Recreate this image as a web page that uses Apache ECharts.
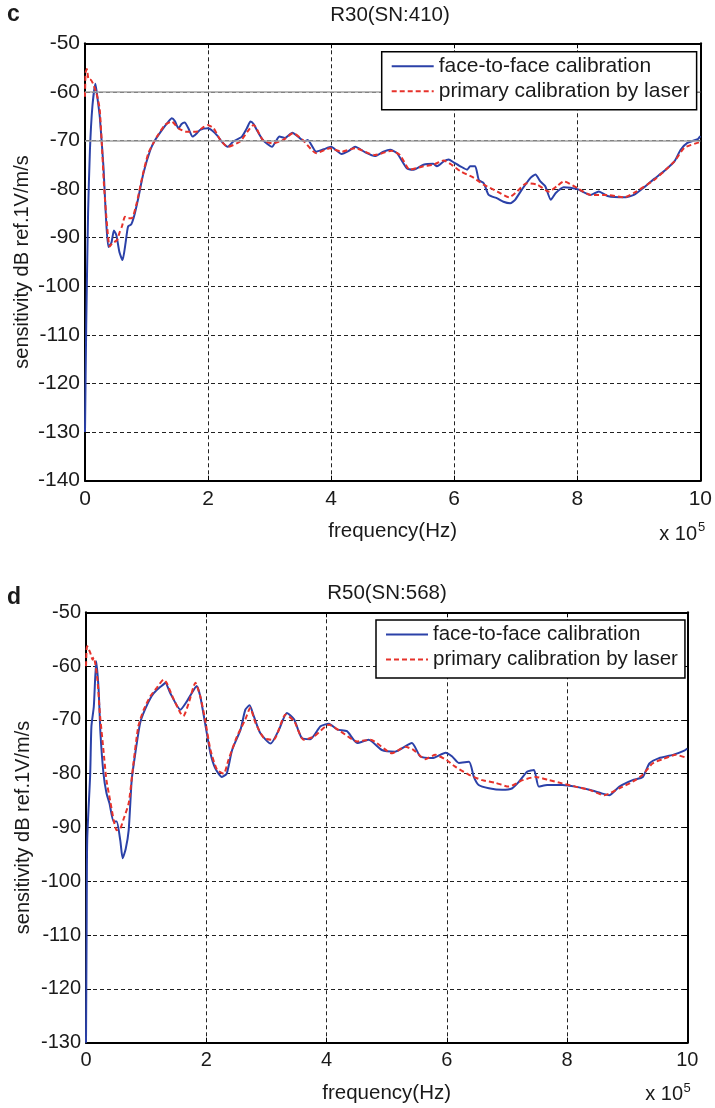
<!DOCTYPE html>
<html>
<head>
<meta charset="utf-8">
<script src="https://cdn.jsdelivr.net/npm/echarts@6/dist/echarts.min.js"></script>
<style>
  html, body { margin: 0; padding: 0; background: #fff; }
  #main { width: 715px; height: 1108px; }
</style>
</head>
<body>
<div id="main"></div>
<script>
// frequency in units of 1e5 Hz, sensitivity in dB
var xTicks = [0, 2, 4, 6, 8, 10];
var seriesNames = ['face-to-face calibration', 'primary calibration by laser'];

// R30 (SN:410)
var r30Face = [[0,-130],[0.02,-108],[0.05,-85],[0.08,-72],[0.12,-63],[0.17,-58.3],[0.21,-62],[0.24,-65.1],[0.30,-75.4],[0.34,-85.7],[0.38,-91.9],[0.43,-91],[0.47,-88.5],[0.51,-89.5],[0.56,-93],[0.61,-94.6],[0.66,-91],[0.70,-87.7],[0.75,-87.3],[0.80,-85.5],[0.86,-82.2],[0.95,-76.7],[1.06,-72],[1.14,-69.9],[1.27,-67.5],[1.35,-66.2],[1.41,-65.4],[1.46,-66],[1.52,-67.5],[1.57,-66.6],[1.62,-66.3],[1.68,-67.5],[1.75,-69.2],[1.81,-68.6],[1.87,-67.8],[2.0,-67.5],[2.08,-68.1],[2.15,-69],[2.22,-70.2],[2.32,-71.3],[2.41,-70.2],[2.55,-69.2],[2.63,-67.5],[2.69,-66.1],[2.74,-66.6],[2.79,-67.8],[2.89,-69.9],[3.04,-71.3],[3.10,-70.2],[3.16,-69.2],[3.25,-69.5],[3.37,-68.4],[3.49,-69.5],[3.57,-70.2],[3.62,-69.9],[3.76,-72.3],[3.88,-71.8],[4.0,-71.3],[4.08,-72],[4.17,-72.8],[4.28,-72.2],[4.39,-71.3],[4.55,-72.4],[4.71,-73.2],[4.85,-72.3],[4.96,-71.9],[5.07,-72.6],[5.23,-75.7],[5.34,-76.0],[5.5,-75.0],[5.66,-74.8],[5.72,-75.3],[5.83,-74.3],[5.91,-73.9],[5.99,-74.5],[6.1,-75.3],[6.21,-76.0],[6.26,-75.3],[6.34,-75.3],[6.40,-78.1],[6.48,-78.8],[6.56,-81.2],[6.70,-81.9],[6.80,-82.6],[6.91,-82.9],[6.99,-82.2],[7.10,-80.1],[7.24,-77.7],[7.32,-77.0],[7.40,-78.4],[7.48,-79.4],[7.57,-82.2],[7.65,-80.8],[7.78,-79.6],[8.0,-80.0],[8.22,-81.2],[8.35,-80.5],[8.49,-81.4],[8.76,-81.7],[8.92,-81.2],[9.09,-79.6],[9.25,-77.9],[9.41,-76.3],[9.58,-74.3],[9.68,-71.9],[9.79,-70.5],[9.96,-69.7],[10,-69.1]];
var r30Laser = [[0,-61],[0.01,-56],[0.03,-55.3],[0.06,-57.5],[0.09,-57.5],[0.13,-58.3],[0.18,-60],[0.21,-61.5],[0.24,-63.7],[0.27,-69.9],[0.31,-79.5],[0.36,-87.7],[0.40,-91.8],[0.44,-91.2],[0.52,-90.5],[0.56,-89],[0.60,-87.7],[0.65,-85.7],[0.70,-86],[0.76,-86.0],[0.84,-82.9],[0.92,-78.1],[1.03,-72.6],[1.17,-69.2],[1.30,-66.8],[1.41,-66.1],[1.52,-67.5],[1.65,-68.2],[1.81,-68.2],[1.92,-67.3],[1.99,-66.8],[2.09,-67.5],[2.20,-69.9],[2.32,-71.3],[2.52,-70.2],[2.65,-68],[2.74,-66.8],[2.89,-69.9],[3.05,-70.6],[3.22,-69.9],[3.38,-68.5],[3.54,-69.9],[3.76,-72.6],[3.98,-71.6],[4.17,-72.3],[4.39,-71.6],[4.71,-73.0],[4.98,-72.1],[5.12,-73],[5.28,-76.0],[5.5,-75.3],[5.66,-75.0],[5.83,-74.1],[5.96,-75.0],[6.1,-76.3],[6.32,-77.7],[6.48,-79.1],[6.7,-80.5],[6.89,-81.7],[7.02,-80.5],[7.18,-78.8],[7.35,-79.1],[7.54,-80.5],[7.67,-79.4],[7.78,-78.4],[8.0,-79.8],[8.22,-81.2],[8.49,-81.2],[8.76,-81.7],[8.92,-80.8],[9.25,-78.1],[9.58,-74.3],[9.74,-71.5],[10,-70.3]];

// R50 (SN:568)
var r50Face = [[0,-130],[0.01,-110],[0.02,-92.4],[0.07,-80],[0.09,-71.2],[0.13,-67.5],[0.17,-59.1],[0.21,-64.4],[0.24,-72.4],[0.29,-79.9],[0.34,-83.6],[0.39,-85.5],[0.46,-88.9],[0.51,-88.9],[0.57,-92.4],[0.61,-95.7],[0.66,-94],[0.71,-90.5],[0.76,-81.2],[0.82,-76.2],[0.90,-70.6],[0.98,-68.1],[1.09,-65.6],[1.18,-64.4],[1.29,-63.4],[1.32,-63.1],[1.40,-65.0],[1.57,-68.1],[1.68,-66.5],[1.76,-65.0],[1.84,-63.7],[1.90,-65.6],[1.98,-70.6],[2.07,-76.2],[2.15,-79.0],[2.26,-80.6],[2.34,-80.0],[2.43,-75.6],[2.57,-71.8],[2.65,-68.1],[2.72,-67.3],[2.79,-69.3],[2.90,-72.5],[3.07,-74.4],[3.21,-71.8],[3.34,-68.7],[3.46,-69.9],[3.59,-73.4],[3.73,-73.6],[3.90,-71.2],[4.04,-70.7],[4.18,-71.8],[4.34,-72.1],[4.51,-74.3],[4.70,-73.7],[4.92,-75.6],[5.14,-75.9],[5.42,-74.3],[5.56,-76.8],[5.76,-77.1],[5.98,-76.1],[6.09,-76.8],[6.2,-78.0],[6.37,-77.8],[6.45,-80.6],[6.53,-82.1],[6.70,-82.7],[6.92,-83.0],[7.09,-82.7],[7.2,-81.5],[7.34,-79.6],[7.45,-79.3],[7.53,-82.4],[7.67,-82.1],[7.92,-82.1],[8.14,-82.4],[8.37,-83.0],[8.59,-83.7],[8.7,-84.0],[8.87,-82.4],[9.09,-81.2],[9.26,-80.6],[9.37,-78.1],[9.53,-77.1],[9.76,-76.5],[9.95,-75.7],[10,-75.3]];
var r50Laser = [[0,-60],[0.01,-56.9],[0.02,-56.3],[0.07,-57.5],[0.11,-58.8],[0.13,-58.4],[0.19,-62.5],[0.23,-68.7],[0.29,-75.6],[0.34,-81.2],[0.40,-84.9],[0.46,-88.6],[0.51,-90.5],[0.57,-90.2],[0.62,-88.6],[0.71,-85.5],[0.79,-78.0],[0.87,-71.2],[0.96,-68.1],[1.07,-65.6],[1.18,-64.0],[1.29,-62.5],[1.34,-63.1],[1.46,-66.2],[1.57,-68.7],[1.62,-69.3],[1.71,-66.8],[1.82,-63.1],[1.90,-65.6],[1.98,-69.9],[2.07,-75.6],[2.18,-79.3],[2.29,-80.0],[2.37,-77.4],[2.51,-73.1],[2.65,-69.9],[2.73,-67.8],[2.82,-70.6],[2.96,-73.4],[3.12,-73.7],[3.32,-69.0],[3.46,-70.2],[3.62,-73.7],[3.79,-73.1],[4.04,-70.9],[4.23,-72.1],[4.51,-74.0],[4.73,-73.7],[5.09,-76.2],[5.31,-75.0],[5.45,-75.6],[5.64,-77.3],[5.81,-76.5],[6.0,-77.5],[6.14,-78.7],[6.37,-80.2],[6.59,-81.2],[6.81,-81.7],[7.03,-82.4],[7.26,-81.2],[7.48,-80.6],[7.70,-81.2],[7.92,-81.8],[8.14,-82.4],[8.37,-83.0],[8.62,-84.0],[8.87,-82.7],[9.09,-81.5],[9.26,-80.2],[9.42,-78.1],[9.59,-77.3],[9.81,-76.5],[10,-77.1]];

var FONT = 'Liberation Sans, Arial, sans-serif';
var TXT = '#1a1a1a';
var BLUE = '#2b41a8';
var RED = '#e6322b';

var myChart = echarts.init(document.getElementById('main'));

function xAx(grid, pos, fs, withName) {
	return {
		type: 'value', gridIndex: grid, position: pos,
		min: xTicks[0], max: xTicks[xTicks.length - 1], interval: 2,
		axisLine: { show: true, onZero: false, lineStyle: { color: '#000', width: 2 } },
		axisTick: { show: true, inside: true, length: 5, lineStyle: { color: '#000' } },
		axisLabel: { show: pos === 'bottom', color: TXT, fontSize: fs, fontFamily: FONT, margin: 8 },
		splitLine: { show: pos === 'bottom', lineStyle: { color: '#222', type: [4, 3], width: 1 } },
		name: withName ? 'frequency(Hz)' : '',
		nameLocation: 'middle', nameGap: 40,
		nameTextStyle: { color: TXT, fontSize: 20.5, fontFamily: FONT }
	};
}
function yAx(grid, pos, fs, min) {
	return {
		type: 'value', gridIndex: grid, position: pos,
		min: min, max: -50, interval: 10,
		axisLine: { show: true, onZero: false, lineStyle: { color: '#000', width: 2 } },
		axisTick: { show: true, inside: true, length: 5, lineStyle: { color: '#000' } },
		axisLabel: { show: pos === 'left', color: TXT, fontSize: fs, fontFamily: FONT, margin: 5 },
		splitLine: { show: pos === 'left', lineStyle: { color: '#222', type: [4, 3], width: 1 } }
	};
}
function legendAt(left, top, fs) {
	return {
		orient: 'vertical', left: left, top: top, z: 20,
		data: seriesNames,
		itemWidth: 42, itemHeight: 14, itemGap: 4,
		itemStyle: { opacity: 0 },
		backgroundColor: '#fff', borderColor: '#000', borderWidth: 1.5,
		padding: [4, 7, 8, 9],
		textStyle: { color: TXT, fontSize: fs, fontFamily: FONT },
		selectedMode: false
	};
}
function lineSeries(name, data, xi, yi, color, dashed) {
	return {
		name: name, type: 'line', data: data,
		xAxisIndex: xi, yAxisIndex: yi,
		showSymbol: false, symbol: 'none', smooth: 0.2,
		lineStyle: { color: color, width: 2, type: dashed ? [5, 3] : 'solid' },
		itemStyle: { color: color },
		z: dashed ? 4 : 3
	};
}
function txt(x, y, s, font, align, rot) {
	return {
		type: 'text', x: x, y: y, rotation: rot || 0,
		style: { text: s, font: font, fill: TXT, textAlign: align || 'center', textVerticalAlign: 'middle' }
	};
}

var s0 = lineSeries(seriesNames[0], r30Face, 0, 0, BLUE, false);
s0.markLine = {
	silent: true, symbol: 'none', label: { show: false },
	lineStyle: { type: 'solid', color: '#a3a3a3', width: 1.5 },
	data: [{ yAxis: -60 }, { yAxis: -70 }]
};

option = {
	animation: false,
	backgroundColor: '#fff',
	grid: [
		{ left: 85, top: 43.3, width: 615.7, height: 437.4 },
		{ left: 86, top: 612.3, width: 601.3, height: 430.4 }
	],
	xAxis: [xAx(0, 'bottom', 21, true), xAx(0, 'top', 21, false), xAx(1, 'bottom', 20, true), xAx(1, 'top', 20, false)],
	yAxis: [yAx(0, 'left', 21, -140), yAx(0, 'right', 21, -140), yAx(1, 'left', 20, -130), yAx(1, 'right', 20, -130)],
	legend: [legendAt(381.7, 51.7, 21), legendAt(376, 620, 20.5)],
	series: [
		s0,
		lineSeries(seriesNames[1], r30Laser, 0, 0, RED, true),
		lineSeries(seriesNames[0], r50Face, 2, 2, BLUE, false),
		lineSeries(seriesNames[1], r50Laser, 2, 2, RED, true)
	],
	graphic: [
		txt(7, 15, 'c', 'bold 23px ' + FONT, 'left'),
		txt(390, 15, 'R30(SN:410)', '20.5px ' + FONT),
		txt(22, 262, 'sensitivity dB ref.1V/m/s', '20px ' + FONT, 'center', Math.PI / 2),
		txt(697, 534, 'x 10', '20px ' + FONT, 'right'),
		txt(698, 527, '5', '13px ' + FONT, 'left'),
		txt(7, 598, 'd', 'bold 23px ' + FONT, 'left'),
		txt(387, 593, 'R50(SN:568)', '20.5px ' + FONT),
		txt(23, 827.5, 'sensitivity dB ref.1V/m/s', '20px ' + FONT, 'center', Math.PI / 2),
		txt(683, 1094, 'x 10', '20px ' + FONT, 'right'),
		txt(683.5, 1088, '5', '13px ' + FONT, 'left')
	]
};

myChart.setOption(option);
</script>
</body>
</html>
